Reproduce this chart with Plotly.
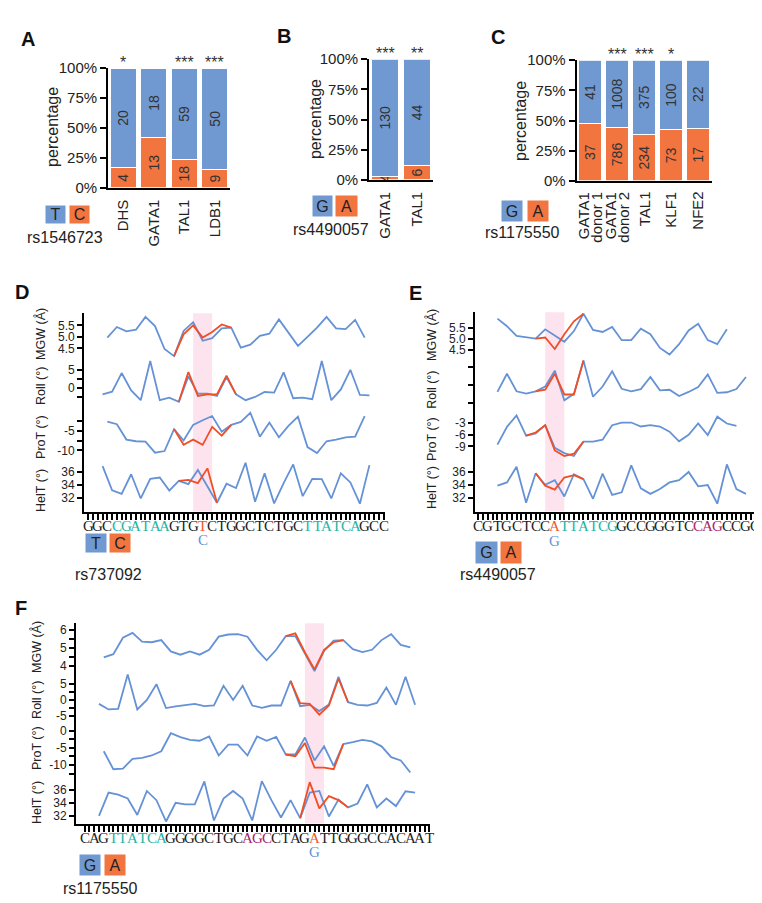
import plotly.graph_objects as go

W, H = 762, 903
def fx(p): return p / W
def fy(p): return 1 - p / H

SANS = 'Liberation Sans, Arial, sans-serif'
SERIF = 'Liberation Serif, Times New Roman, serif'
BLUE_BAR = '#7099D1'
ORANGE_BAR = '#F2743F'
BLUE_LINE = '#6592D6'
RED_LINE = '#F24E24'
TEAL = '#22B3A3'
PURPLE = '#A8246E'
SNP_RED = '#F0582A'
BAND = '#FCE3EE'
TXT = '#222222'

# ---------------- bar data ----------------
A_cats = ['DHS', 'GATA1', 'TAL1', 'LDB1']
A_major = [20, 18, 59, 50]      # T
A_minor = [4, 13, 18, 9]        # C
A_stars = ['*', '', '***', '***']

B_cats = ['GATA1', 'TAL1']
B_major = [130, 44]             # G
B_minor = [4, 6]                # A
B_stars = ['***', '**']

C_cats = ['GATA1<br>donor 1', 'GATA1<br>donor 2', 'TAL1', 'KLF1', 'NFE2']
C_major = [41, 1008, 375, 100, 22]   # G
C_minor = [37, 786, 234, 73, 17]     # A
C_stars = ['', '***', '***', '*', '']

# ---------------- shape data ----------------
D_seq = 'GGCCGATAAGTGTCTGGCTCTGCTTATCAGCC'
D_snp, D_alt = 12, 'C'
D_motifs = [(3, 8, TEAL), (23, 28, TEAL)]
D_rs = 'rs737092'
D_mgw_ref = [4.97, 5.43, 5.24, 5.31, 5.87, 5.47, 4.47, 4.16, 5.26, 5.64, 4.83, 4.94, 5.37, 5.40,
             4.53, 4.66, 5.04, 5.14, 5.76, 5.16, 4.61, 5.00, 5.40, 5.87, 5.37, 5.34, 5.74, 4.97]
D_mgw_alt = [4.16, 5.11, 5.50, 4.97, 5.21, 5.54, 5.40]
D_roll_ref = [-1.82, -1.09, 4.09, -0.73, -3.45, 7.45, -3.45, -2.73, -3.9, 3.18, -1.64, -1.64, -2.27,
              3.0, -1.82, -3.45, -2.55, -1.18, -1.36, 4.27, -2.91, -2.73, -3.18, 7.45, -3.45, -0.45,
              5.0, -2.0, -2.09]
D_roll_alt = [-3.9, 4.36, -2.27, -1.82, -1.82, 3.36, -1.82]
D_prot_ref = [-2.67, -3.33, -7.25, -7.67, -7.75, -10.58, -10.17, -4.58, -7.5, -3.5, -2.33, -1.25,
              -5.25, -3.5, -2.75, -0.42, -6.5, -2.92, -6.67, -3.75, -1.42, -9.17, -10.67, -7.67,
              -7.25, -6.67, -6.5, -1.25]
D_prot_alt = [-4.58, -8.58, -7.25, -8.58, -4.0, -6.25, -3.5]
D_helt_ref = [36.85, 33.15, 32.6, 35.6, 31.9, 34.9, 35.1, 33.1, 34.6, 34.1, 36.25, 33.75, 31.25,
              34.15, 33.5, 37.35, 31.4, 35.75, 31.15, 34.25, 37.1, 32.25, 34.9, 34.85, 31.9, 35.75,
              34.35, 31.1, 37.0]
D_helt_alt = [34.6, 34.75, 34.25, 36.5, 31.25]
D_starts = dict(mgw=(2, 9), roll=(1.5, 9.5), prot=(2, 9), helt=(1.5, 9.5))

E_seq = 'CGTGCTCCATTATCGGCCGGGTCCAGCCGG'
E_snp, E_alt = 8, 'G'
E_motifs = [(9, 14, TEAL), (23, 25, PURPLE)]
E_rs = 'rs4490057'
E_mgw_ref = [5.91, 5.57, 5.13, 5.06, 5.01, 5.43, 5.13, 4.87, 5.35, 6.13, 5.40, 5.31, 5.54, 4.94,
             4.94, 5.46, 5.21, 4.59, 4.29, 4.76, 5.38, 5.68, 4.94, 4.76, 5.43]
E_mgw_alt = [5.01, 5.06, 4.54, 5.21, 5.79, 6.13]
E_roll_ref = [-1.93, 3.07, -1.75, -2.37, -1.75, -0.44, 3.95, -4.21, -2.46, 6.75, -3.25, -0.44, 3.77,
              -1.05, -1.75, -1.14, 2.19, -1.49, -1.32, -3.07, -1.93, -0.61, 2.89, -2.19, -2.02,
              -1.14, 2.19]
E_roll_alt = [-1.75, -1.32, 3.07, -2.63, -2.63, 6.75]
E_prot_ref = [-8.51, -3.93, -0.97, -6.22, -5.63, -3.51, -9.36, -10.71, -11.47, -7.75, -7.75, -7.24,
              -3.51, -2.83, -2.83, -3.85, -3.51, -3.85, -5.20, -7.66, -5.97, -3.08, -6.05, -1.31,
              -3.08, -3.68]
E_prot_alt = [-6.22, -5.4, -3.51, -10.03, -11.47, -10.88, -7.75]
E_helt_ref = [33.85, 34.35, 36.75, 31.25, 35.75, 34.0, 34.7, 32.2, 35.6, 34.85, 31.85, 35.7, 32.45,
              32.85, 36.95, 33.45, 32.6, 33.35, 34.35, 34.7, 35.95, 33.75, 33.95, 31.1, 37.1, 33.35,
              32.6]
E_helt_alt = [35.75, 33.85, 33.25, 35.1, 35.45, 34.85]
E_starts = dict(mgw=(2, 6), roll=(2, 6), prot=(2, 5), helt=(2, 6))

F_seq = 'CAGTTATCAGGGGCTGCAGCCTAGATTGGGCCACAAT'
F_snp, F_alt = 24, 'G'
F_motifs = [(3, 8, TEAL), (17, 19, PURPLE)]
F_rs = 'rs1175550'
F_mgw_ref = [4.49, 4.67, 5.58, 5.85, 5.36, 5.33, 5.45, 4.82, 4.64, 4.82, 4.64, 4.91, 5.64, 5.76,
             5.78, 5.64, 4.91, 4.33, 4.91, 5.67, 5.67, 4.73, 3.73, 4.85, 5.42, 5.45, 4.95, 4.78,
             4.91, 5.45, 5.78, 5.18, 5.04]
F_mgw_alt = [5.67, 5.82, 4.76, 3.82, 4.91, 5.33, 5.45]
F_roll_ref = [-1.33, -3.06, -2.86, 7.86, -3.06, -0.1, 4.8, -2.65, -2.14, -1.63, -1.33, -2.04, -1.84,
              4.29, -0.1, 4.29, -1.84, -2.55, -1.84, -1.84, 5.82, -2.04, -1.63, -3.57, -1.53, 7.14,
              -0.82, -1.63, -1.84, -1.02, 3.78, -1.63, 7.14, -1.63]
F_roll_alt = [5.82, -1.12, -1.33, -4.69, -1.84, 6.5, -0.82]
F_prot_ref = [-5.96, -11.25, -11.06, -8.17, -7.88, -7.21, -5.96, -0.67, -1.83, -2.6, -2.88, -1.63,
              -7.21, -4.04, -4.04, -7.21, -1.63, -2.88, -1.73, -6.92, -6.92, -1.92, -8.65, -4.52,
              -10.29, -3.85, -3.27, -2.6, -3.08, -4.52, -7.69, -8.65, -12.21]
F_prot_alt = [-6.92, -7.4, -3.56, -10.77, -10.77, -11.25, -3.85]
F_helt_ref = [31.95, 35.54, 35.24, 34.63, 32.1, 35.8, 34.38, 31.09, 33.97, 33.72, 33.72, 37.27,
              31.24, 34.63, 35.8, 34.63, 31.24, 37.32, 34.38, 31.7, 34.38, 31.6, 35.54, 35.8, 31.85,
              34.48, 33.27, 33.87, 36.81, 33.27, 34.63, 33.47, 35.75, 35.54]
F_helt_alt = [31.6, 37.16, 33.11, 34.99, 34.38, 33.27]
F_starts = dict(mgw=(2, 21), roll=(1.5, 21.5), prot=(2, 21), helt=(1.5, 22.5))

TRACK_TITLES = ['MGW (Å)', 'Roll (°)', 'ProT (°)', 'HelT (°)']

fig = go.Figure()
layout = {}
annotations = []
shapes = []


def ax_key(name, kind):
    return f'{kind}axis{name[1:]}'


def note(x, y, text, size=14, xref='paper', yref='paper', angle=0, xanchor='center',
         yanchor='middle', color=TXT, family=None, **kw):
    f = dict(size=size, color=color)
    if family:
        f['family'] = family
    annotations.append(dict(xref=xref, yref=yref, x=x, y=y, text=text, textangle=angle,
                            xanchor=xanchor, yanchor=yanchor, showarrow=False, font=f, **kw))


def legend(boxes, rs, rs_pos):
    for (cx, cy, w, h, txt, col) in boxes:
        note(fx(cx), fy(cy), txt, size=16, width=w, height=h, bgcolor=col, borderpad=0)
    note(fx(rs_pos[0]), fy(rs_pos[1]), rs, size=16)


def bar_panel(num, cats, major, minor, stars, xdom, ydom, title_pos, label_ann=False):
    xa, ya = f'x{num}', f'y{num}'
    tot = [a + b for a, b in zip(major, minor)]
    xs = list(range(len(cats)))
    common = dict(xaxis=xa, yaxis=ya, width=0.85, textposition='inside', insidetextanchor='middle',
                  textangle=-90, textfont=dict(size=14, color='#333333'), hoverinfo='skip',
                  cliponaxis=False)
    fig.add_trace(go.Bar(x=xs, y=[b / t for b, t in zip(minor, tot)], text=[str(v) for v in minor],
                         marker=dict(color=ORANGE_BAR, line=dict(color='white', width=1)), **common))
    fig.add_trace(go.Bar(x=xs, y=[a / t for a, t in zip(major, tot)], text=[str(v) for v in major],
                         marker=dict(color=BLUE_BAR, line=dict(color='white', width=1)), **common))
    layout[ax_key(xa, 'x')] = dict(domain=[fx(xdom[0]), fx(xdom[1])], anchor=ya,
                                   range=[-0.5, len(cats) - 0.5], tickvals=xs, ticktext=cats,
                                   showticklabels=not label_ann,
                                   tickangle=-90, showline=True, linecolor='black', linewidth=1.8,
                                   ticks='outside', ticklen=4, tickcolor='rgba(0,0,0,0)',
                                   tickfont=dict(size=15), showgrid=False, zeroline=False)
    layout[ax_key(ya, 'y')] = dict(domain=[fy(ydom[1]), fy(ydom[0])], anchor=xa, range=[0, 1],
                                   tickvals=[0, 0.25, 0.5, 0.75, 1],
                                   ticktext=['0%', '25%', '50%', '75%', '100%'],
                                   showline=True, linecolor='black', linewidth=1.8, ticks='outside',
                                   ticklen=6, tickwidth=1.5, tickcolor='black',
                                   tickfont=dict(size=15), showgrid=False, zeroline=False)
    if label_ann:
        for i, c in enumerate(cats):
            lines = c.split('<br>')
            offs = [0] if len(lines) == 1 else [-0.26, 0.24]
            for ln, o in zip(lines, offs):
                note(i + o, fy(ydom[1] + 9), ln, size=15, xref=xa, angle=-90, yanchor='top')
    for i, s in enumerate(stars):
        if s:
            note(i, 1, s, size=16, xref=xa, yref=ya, yanchor='bottom', color='#333333', yshift=-5)
    note(fx(title_pos[0]), fy(title_pos[1]), 'percentage', size=16, angle=-90)


def line_panel(xnum, ynums, seq, snp, alt, motifs, data, starts, geo, tracks, title_x, title_ys,
               seq_y, alt_y):
    xa = f'x{xnum}'
    left, right, p0, step, top, bottom = geo
    n = len(seq)
    tickvals = [i / 2 for i in range(2 * n - 1)]
    layout[ax_key(xa, 'x')] = dict(domain=[fx(left), fx(right)], anchor=f'y{ynums[-1]}',
                                   range=[(left - p0) / step, (right - p0) / step],
                                   tickvals=tickvals, showticklabels=False,
                                   ticks='outside', ticklen=7, tickwidth=1.8, tickcolor='black',
                                   showline=True, linecolor='black', linewidth=1.8,
                                   showgrid=False, zeroline=False)
    # sequence letters, one per base position
    for i, ch in enumerate(seq):
        col = TXT
        for (a, b, c) in motifs:
            if a <= i <= b:
                col = c
        if i == snp:
            col = SNP_RED
        note(i, fy(seq_y), ch, size=15, xref=xa, color=col, family=SERIF)
    keys = ['mgw', 'roll', 'prot', 'helt']
    for yn, key, tr, ty, ttl in zip(ynums, keys, tracks, title_ys, TRACK_TITLES):
        ya = f'y{yn}'
        dtop, dbot, v0, pv, k, tv, tt, mv = tr
        rng = [v0 - (dbot - pv) / k, v0 + (pv - dtop) / k]
        layout[ax_key(ya, 'y')] = dict(domain=[fy(dbot), fy(dtop)], anchor=xa, range=rng,
                                       tickvals=tv, ticktext=tt, showticklabels=bool(tt),
                                       showline=True, linecolor='black', linewidth=1.8,
                                       ticks='outside', ticklen=5, tickwidth=1.5, tickcolor='black',
                                       tickfont=dict(size=12), showgrid=False, zeroline=False,
                                       minor=dict(tickvals=mv, ticks='outside', ticklen=5,
                                                  tickwidth=1.5, tickcolor='black',
                                                  showgrid=False))
        ref, altv = data[key]
        s_ref, s_alt = starts[key]
        fig.add_trace(go.Scatter(x=[s_ref + i for i in range(len(ref))], y=ref, mode='lines',
                                 line=dict(color=BLUE_LINE, width=1.8), xaxis=xa, yaxis=ya,
                                 hoverinfo='skip'))
        fig.add_trace(go.Scatter(x=[s_alt + i for i in range(len(altv))], y=altv, mode='lines',
                                 line=dict(color=RED_LINE, width=1.8), xaxis=xa, yaxis=ya,
                                 hoverinfo='skip'))
        note(fx(title_x), fy(ty), ttl, size=12.5, angle=-90)
    shapes.append(dict(type='rect', xref=xa, yref='paper', x0=snp - 1, x1=snp + 1,
                       y0=fy(bottom), y1=fy(top), fillcolor=BAND, line=dict(width=0),
                       layer='below'))
    note(snp, fy(alt_y), alt, size=15, xref=xa, color=BLUE_LINE, family=SERIF)


# ---- bar panels ----
bar_panel(1, A_cats, A_major, A_minor, A_stars, (100, 222), (52, 174), (45, 112))
bar_panel(2, B_cats, B_major, B_minor, B_stars, (361, 425), (43, 166), (307, 104))
bar_panel(3, C_cats, C_major, C_minor, C_stars, (568.5, 703.5), (44, 167), (512, 106),
          label_ann=True)

legend([(47.5, 201.5, 19, 17, 'T', BLUE_BAR), (71.5, 201.5, 19, 17, 'C', ORANGE_BAR)],
       'rs1546723', (57, 225))
legend([(314.5, 193, 19, 20, 'G', BLUE_BAR), (338.5, 193, 21, 20, 'A', ORANGE_BAR)],
       'rs4490057', (323, 217))
legend([(504, 198, 20, 20, 'G', BLUE_BAR), (530, 198, 20, 20, 'A', ORANGE_BAR)],
       'rs1175550', (514, 220))

# ---- shape panels ----
D_data = dict(mgw=(D_mgw_ref, D_mgw_alt), roll=(D_roll_ref, D_roll_alt),
              prot=(D_prot_ref, D_prot_alt), helt=(D_helt_ref, D_helt_alt))
D_tracks = [
    (302, 356, 5.5, 314.3, 23.4, [5.5, 5.0, 4.5], ['5.5', '5.0', '4.5'], []),
    (344, 406, 0, 377.9, 3.67, [5, 0], ['5', '0'], [2.5, -2.5]),
    (394, 458, -5, 421.7, 4.0, [-5, -10], ['-5', '-10'], [-2.5, -7.5]),
    (446, 504, 34, 476.7, 6.67, [36, 34, 32], ['36', '34', '32'], []),
]
line_panel(4, [4, 5, 6, 7], D_seq, D_snp, D_alt, D_motifs, D_data, D_starts,
           (76, 377, 80.3, 9.53, 302, 504), D_tracks, 33, [323, 376, 428, 483], 519, 533)

E_data = dict(mgw=(E_mgw_ref, E_mgw_alt), roll=(E_roll_ref, E_roll_alt),
              prot=(E_prot_ref, E_prot_alt), helt=(E_helt_ref, E_helt_alt))
E_tracks = [
    (301, 356, 5.5, 316.7, 22.6, [5.5, 5.0, 4.5], ['5.5', '5.0', '4.5'], []),
    (343, 406, 0, 375, 3.7, [5, 0, -5], [], []),
    (394, 458, -3, 414, 3.95, [-3, -6, -9], ['-3', '-6', '-9'], []),
    (446, 504, 34, 476.7, 6.67, [36, 34, 32], ['36', '34', '32'], []),
]
line_panel(5, [8, 9, 10, 11], E_seq, E_snp, E_alt, E_motifs, E_data, E_starts,
           (467, 748, 470.3, 9.56, 301, 504), E_tracks, 424, [324, 380, 430, 480], 519, 534)

F_data = dict(mgw=(F_mgw_ref, F_mgw_alt), roll=(F_roll_ref, F_roll_alt),
              prot=(F_prot_ref, F_prot_alt), helt=(F_helt_ref, F_helt_alt))
F_tracks = [
    (618, 675, 5, 643.3, 18.35, [6, 5, 4], ['6', '5', '4'], [5.5, 4.5]),
    (663, 725, 0, 695.7, 3.27, [5, 0, -5], ['5', '0', '-5'], [2.5, -2.5]),
    (713, 780, -5, 745, 3.47, [0, -5, -10], ['0', '-5', '-10'], [-2.5, -7.5, -12.5]),
    (768, 822, 34, 800.7, 6.6, [36, 34, 32], ['36', '34', '32'], []),
]
line_panel(6, [12, 13, 14, 15], F_seq, F_snp, F_alt, F_motifs, F_data, F_starts,
           (68, 422, 76.6, 9.58, 618, 822), F_tracks, 29, [642, 696, 745, 801], 837, 851)

legend([(88, 536, 20, 18, 'T', BLUE_BAR), (112, 536, 20, 18, 'C', ORANGE_BAR)],
       D_rs, (100, 568))
legend([(478.5, 545.5, 21, 21, 'G', BLUE_BAR), (503, 545.5, 20, 21, 'A', ORANGE_BAR)],
       E_rs, (490, 568))
legend([(82, 864, 20, 20, 'G', BLUE_BAR), (107, 864, 20, 20, 'A', ORANGE_BAR)],
       F_rs, (92, 888))

# ---- panel letters ----
for lbl, (cx, cy) in zip('ABCDEF', [(20, 22.5), (275.5, 19.5), (490, 20), (14, 280),
                                     (407, 281), (12.5, 602.5)]):
    note(fx(cx), fy(cy), f'<b>{lbl}</b>', size=20, color='#111111')

fig.update_layout(width=W, height=H, margin=dict(l=0, r=0, t=0, b=0), showlegend=False,
                  paper_bgcolor='white', plot_bgcolor='rgba(0,0,0,0)', barmode='stack',
                  font=dict(family=SANS, size=14, color=TXT),
                  uniformtext=dict(minsize=14, mode='show'),
                  annotations=annotations, shapes=shapes, **layout)
fig.write_html('out.html')
